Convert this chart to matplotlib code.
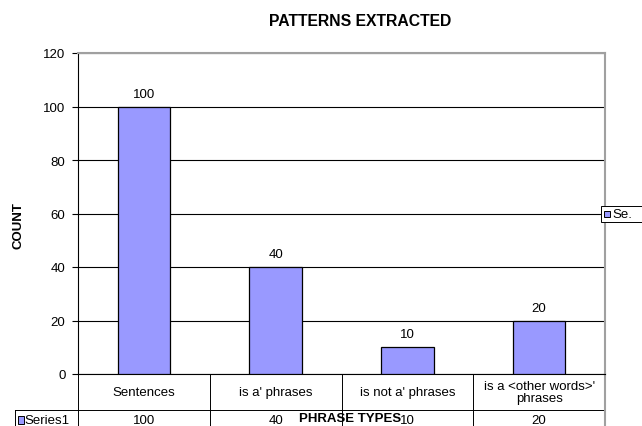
import matplotlib.pyplot as plt
from matplotlib.patches import Rectangle
from matplotlib.lines import Line2D
import matplotlib.transforms as mtrans

plt.rcParams['font.family'] = ['Liberation Sans', 'DejaVu Sans']

categories = ['Sentences', "is a' phrases", "is not a' phrases", "is a <other words>'\nphrases"]
counts = [100, 40, 10, 20]
series_name = 'Series1'
yticks = [0, 20, 40, 60, 80, 100, 120]

bar_color = '#9999ff'
W, H = 642, 427

fig = plt.figure(figsize=(W / 100, H / 100), dpi=100)
ax = fig.add_axes([78 / W, 1 - 375 / H, (605 - 78) / W, (375 - 54) / H])

x = list(range(len(categories)))
ax.bar(x, counts, width=0.4, color=bar_color, edgecolor='#000000', linewidth=0.9, zorder=3)
for xi, v in zip(x, counts):
    ax.annotate(str(v), (xi, v), xytext=(0, 5), textcoords='offset points',
                ha='center', va='bottom', fontsize=9.5)

ax.set_xlim(-0.5, len(categories) - 0.5)
ax.set_ylim(0, 120)
ax.set_yticks(yticks)
ax.set_xticks([])
ax.tick_params(axis='y', labelsize=9.5, length=4, width=0.8, color='#000000', pad=5)
ax.yaxis.grid(True, color='#000000', linewidth=0.8, zorder=0)
for side in ['top', 'right']:
    ax.spines[side].set_color('#a0a0a0')
    ax.spines[side].set_linewidth(1.5)
ax.spines['left'].set_color('#000000')
ax.spines['bottom'].set_color('#000000')

# data table under the axis
tr = mtrans.blended_transform_factory(ax.transData, ax.transAxes)
row_h = 36 / 321
y1 = -row_h
y2 = -2 * row_h
lk = dict(transform=tr, clip_on=False, color='#000000', linewidth=0.7)
left_edge = -0.5 - 63 / 131.75
ax.add_line(Line2D([left_edge, 3.5], [y1, y1], **lk))
for b in [-0.5, 0.5, 1.5, 2.5]:
    ax.add_line(Line2D([b, b], [0, y2], **lk))
ax.add_line(Line2D([3.5, 3.5], [0, y2], transform=tr, clip_on=False,
                   color='#a0a0a0', linewidth=1.5))
ax.add_line(Line2D([left_edge, left_edge], [y1, y2], **lk))

for xi, c in zip(x, categories):
    ax.text(xi, -row_h / 2, c, transform=tr, ha='center', va='center',
            fontsize=9.5, linespacing=1.1)
row2_y = -(421 - 375) / 321
for xi, v in zip(x, counts):
    ax.text(xi, row2_y, str(v), transform=tr, ha='center', va='center', fontsize=9.5)

# series key in the table's first column
ax.add_patch(Rectangle((left_edge + 0.02, row2_y - 0.012), 0.045, 0.024, transform=tr,
                       clip_on=False, facecolor=bar_color, edgecolor='#000000', linewidth=0.7))
ax.text(left_edge + 0.075, row2_y, series_name, transform=tr, ha='left', va='center', fontsize=9.5)

fig.text(360 / W, 1 - 21 / H, 'PATTERNS EXTRACTED', ha='center', va='center',
         fontsize=11.3, fontweight='bold')
fig.text(18 / W, 1 - 226 / H, 'COUNT', rotation=90, ha='center', va='center',
         fontsize=9.5, fontweight='bold')
fig.text(350 / W, 1 - 419 / H, 'PHRASE TYPES', ha='center', va='center',
         fontsize=9.5, fontweight='bold')

# legend box, running off the right edge
fig.patches.append(Rectangle((601 / W, 1 - 223 / H), 50 / W, 16 / H, transform=fig.transFigure,
                             facecolor='white', edgecolor='#000000', linewidth=0.7))
fig.patches.append(Rectangle((604 / W, 1 - 218 / H), 6 / W, 6 / H, transform=fig.transFigure,
                             facecolor=bar_color, edgecolor='#000000', linewidth=0.7))
fig.text(612 / W, 1 - 215 / H, series_name[:2] + '.', ha='left', va='center', fontsize=9.5)

fig.savefig('out.png', dpi=100)
